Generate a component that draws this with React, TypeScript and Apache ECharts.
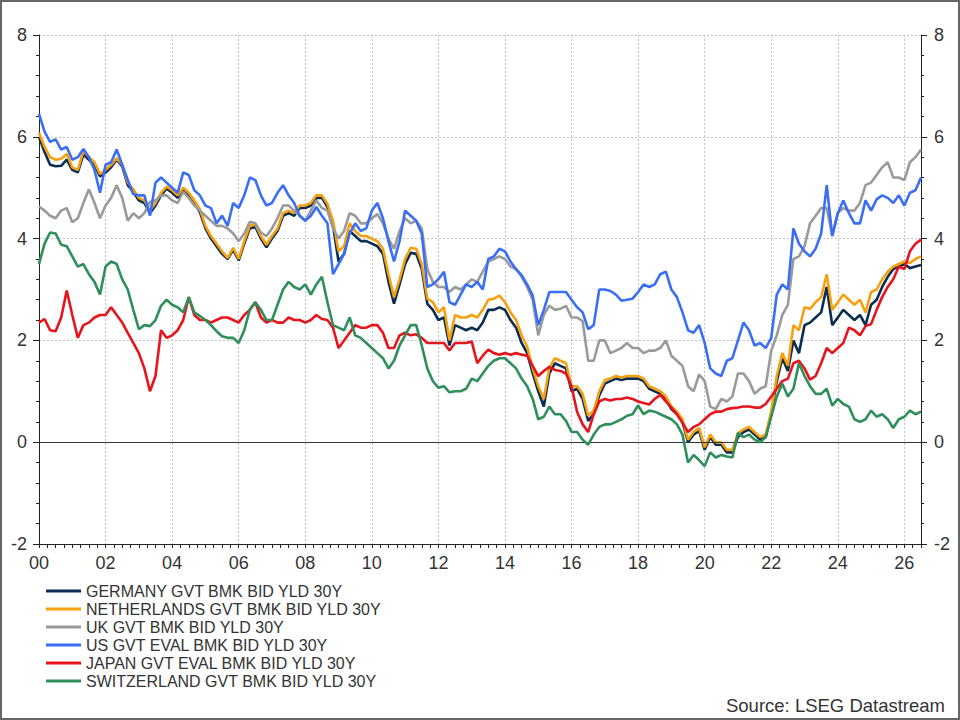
import React, { useEffect, useRef } from "react";
import * as echarts from "echarts";

// Two-monthly observations, starting Jan 2000 (t = years since 2000, step 1/6)
const STEP_PER_YEAR = 6;

const GERMANY = [
  6.0, 5.7, 5.45, 5.42, 5.43, 5.55,
  5.35, 5.3, 5.65, 5.55, 5.45, 5.22,
  5.3, 5.4, 5.55, 5.42, 5.05, 4.92,
  4.75, 4.7, 4.5, 4.65, 4.85, 4.98,
  4.9, 4.8, 4.95, 4.85, 4.7, 4.52,
  4.2, 4.0, 3.85, 3.7, 3.6, 3.78,
  3.57, 3.9, 4.2, 4.23, 4.0, 3.83,
  4.0, 4.15, 4.45, 4.5, 4.45, 4.6,
  4.6, 4.65, 4.8, 4.8, 4.62, 4.25,
  3.55, 3.7, 4.15, 4.05, 3.95, 3.95,
  3.9, 3.85, 3.7, 3.15, 2.72, 3.1,
  3.5, 3.72, 3.7, 3.4, 2.72, 2.6,
  2.4, 2.45, 1.9, 2.3, 2.25, 2.2,
  2.25, 2.2, 2.35, 2.6, 2.6, 2.65,
  2.6, 2.4, 2.25, 1.95, 1.75, 1.35,
  1.0, 0.7, 1.35, 1.55, 1.5, 1.45,
  1.0, 1.05, 0.85, 0.42, 0.55, 0.92,
  1.15, 1.2, 1.25, 1.22, 1.25, 1.25,
  1.25, 1.2, 1.05, 1.0, 0.95, 0.85,
  0.65, 0.55, 0.4, 0.0, 0.15, 0.22,
  -0.15, 0.1, -0.05, -0.05, -0.2, -0.2,
  0.1, 0.2, 0.25, 0.15, 0.05, 0.1,
  0.55, 1.2, 1.65, 1.4, 2.0, 1.75,
  2.3, 2.35, 2.45, 2.55, 3.05, 2.3,
  2.45, 2.6, 2.5, 2.4, 2.5, 2.3,
  2.7, 2.8, 3.05, 3.25, 3.4, 3.45,
  3.5, 3.42, 3.45, 3.48,
];

const NETHERLANDS = [
  6.08, 5.8, 5.6, 5.55, 5.57, 5.66,
  5.4, 5.35, 5.72, 5.6, 5.5, 5.27,
  5.35, 5.45, 5.58, 5.45, 5.1, 4.97,
  4.8, 4.75, 4.55, 4.7, 4.9, 5.02,
  4.95, 4.85, 5.0, 4.9, 4.75, 4.58,
  4.25, 4.05, 3.9, 3.75, 3.62, 3.82,
  3.6, 3.95, 4.25, 4.28, 4.05, 3.88,
  4.05, 4.2, 4.5, 4.55, 4.5, 4.65,
  4.65, 4.7, 4.85, 4.85, 4.68, 4.35,
  3.75, 3.85, 4.3, 4.15, 4.05, 4.05,
  4.0, 3.95, 3.8, 3.3, 2.85, 3.2,
  3.6, 3.82, 3.8, 3.5, 2.82, 2.75,
  2.55, 2.65, 2.0, 2.5, 2.45, 2.45,
  2.5, 2.45, 2.6, 2.8, 2.82, 2.88,
  2.75, 2.55, 2.4, 2.1, 1.88, 1.45,
  1.1, 0.85, 1.46, 1.65, 1.6, 1.55,
  1.1, 1.1, 0.95, 0.52, 0.62, 1.0,
  1.22, 1.25, 1.3, 1.27, 1.3, 1.3,
  1.3, 1.25, 1.1, 1.05, 1.0, 0.9,
  0.7, 0.6, 0.45, 0.05, 0.2, 0.28,
  -0.1, 0.15, 0.0, 0.0, -0.15, -0.15,
  0.18, 0.25, 0.3, 0.2, 0.1, 0.15,
  0.6, 1.3, 1.75, 1.5, 2.3, 2.2,
  2.65, 2.62, 2.75, 2.85, 3.3, 2.6,
  2.75, 2.9, 2.8, 2.7, 2.8, 2.55,
  2.95, 3.0, 3.2, 3.35, 3.45, 3.5,
  3.55, 3.52, 3.6, 3.65,
];

const UK = [
  4.63, 4.55, 4.45, 4.4, 4.55, 4.6,
  4.32, 4.4, 4.7, 4.97, 4.7, 4.4,
  4.65, 4.8, 5.05, 4.8, 4.35, 4.5,
  4.4, 4.5, 4.72, 4.75, 4.85, 4.85,
  4.75, 4.7, 4.92, 4.8, 4.65, 4.55,
  4.45, 4.35, 4.25, 4.25, 4.2, 4.1,
  3.95, 4.1, 4.33, 4.3, 4.12, 4.05,
  4.2, 4.4, 4.65, 4.65, 4.55, 4.45,
  4.35, 4.55, 4.75, 4.6, 4.55, 4.2,
  4.0, 4.15, 4.5, 4.45, 4.3, 4.3,
  4.4, 4.48, 4.3, 4.0, 3.8, 4.15,
  4.4, 4.3, 4.35, 4.2, 3.4, 3.15,
  3.05, 3.05, 2.95, 3.05, 3.0, 3.1,
  3.2, 3.15, 3.35, 3.55, 3.6, 3.65,
  3.6, 3.45, 3.4, 3.25, 3.05, 2.8,
  2.1, 2.5, 2.68, 2.6, 2.62, 2.68,
  2.45, 2.45, 2.38, 1.6, 1.6, 2.0,
  2.0, 1.75, 1.8, 1.85, 1.95, 1.85,
  1.85, 1.75, 1.8, 1.8, 1.85, 2.0,
  1.7, 1.6, 1.5, 1.1, 1.0, 1.33,
  1.2, 0.7, 0.65, 0.85, 0.8, 0.9,
  1.35, 1.35, 1.2, 0.95, 1.05, 1.1,
  1.8, 2.1, 2.5, 2.7, 3.6, 3.65,
  3.85, 4.3, 4.45, 4.6, 4.6, 4.05,
  4.5, 4.6, 4.55, 4.55, 4.7, 5.05,
  5.1, 5.25, 5.4, 5.5, 5.2, 5.2,
  5.15, 5.5, 5.6, 5.75,
];

const US = [
  6.45, 6.1, 5.9, 5.95, 5.75, 5.8,
  5.55, 5.6, 5.76, 5.6, 5.35, 4.9,
  5.45, 5.5, 5.75, 5.45, 5.15, 4.87,
  4.85, 4.85, 4.45, 5.1, 5.2, 5.1,
  5.0, 4.9, 5.3, 5.25, 4.95, 4.85,
  4.65, 4.6, 4.3, 4.45, 4.25, 4.7,
  4.6, 4.85, 5.2, 5.15, 4.85, 4.65,
  4.7, 4.9, 5.05, 4.85, 4.7, 4.45,
  4.35, 4.45, 4.62, 4.45, 4.3, 3.3,
  3.5, 3.7, 4.1, 4.3, 4.15, 4.2,
  4.55, 4.7, 4.4, 3.95, 3.55, 3.95,
  4.55, 4.45, 4.35, 4.1, 3.05, 3.1,
  3.2, 3.35, 2.75, 2.7, 2.9, 3.1,
  3.05, 3.15, 3.0, 3.6, 3.65, 3.8,
  3.75, 3.55, 3.4, 3.28, 3.1, 2.88,
  2.3, 2.6, 2.95, 2.95, 2.95, 2.95,
  2.8, 2.65, 2.55, 2.22, 2.3, 3.0,
  3.0, 2.97, 2.9, 2.78, 2.8, 2.82,
  2.95, 3.1, 3.05, 3.1, 3.3, 3.35,
  3.0, 2.85, 2.55, 2.2, 2.15, 2.3,
  1.95, 1.45, 1.35, 1.3, 1.6, 1.65,
  2.0, 2.35, 2.2, 1.9, 1.95, 1.85,
  2.05, 2.9, 3.1, 3.0, 4.2, 3.9,
  3.75, 3.65, 3.8, 4.1, 5.05, 4.05,
  4.5, 4.75, 4.5, 4.3, 4.3, 4.75,
  4.55, 4.77, 4.85, 4.8, 4.7, 4.85,
  4.65, 4.9, 4.95, 5.2,
];

const JAPAN = [
  2.35, 2.42, 2.2, 2.18, 2.45, 2.98,
  2.5, 2.05, 2.3, 2.35, 2.45, 2.5,
  2.5, 2.65, 2.5, 2.35, 2.15, 1.95,
  1.75, 1.45, 1.0, 1.3, 2.2, 2.05,
  2.1, 2.2, 2.4, 2.85, 2.5, 2.4,
  2.4, 2.35, 2.4, 2.45, 2.45, 2.4,
  2.35, 2.5, 2.6, 2.75, 2.45, 2.35,
  2.4, 2.35, 2.35, 2.45, 2.4, 2.4,
  2.35, 2.4, 2.5, 2.42, 2.4, 2.25,
  1.85, 2.0, 2.15, 2.3, 2.25, 2.25,
  2.3, 2.3, 2.15, 1.85, 1.85, 2.1,
  2.15, 2.1, 2.12, 2.05, 1.95, 1.95,
  1.95, 1.95, 1.8, 1.95, 1.95, 1.95,
  1.98, 1.55, 1.7, 1.82, 1.75, 1.72,
  1.75, 1.72, 1.75, 1.72, 1.7, 1.5,
  1.3, 1.4, 1.48, 1.42, 1.4, 1.35,
  1.1, 0.6, 0.35, 0.2, 0.55, 0.8,
  0.85, 0.82, 0.85, 0.85, 0.88, 0.85,
  0.8, 0.77, 0.74, 0.85, 0.93, 0.8,
  0.68, 0.55, 0.38, 0.2, 0.3, 0.35,
  0.45, 0.55, 0.6, 0.6, 0.65, 0.67,
  0.68, 0.7, 0.7, 0.68, 0.68, 0.75,
  0.9, 1.05, 1.2, 1.25, 1.55, 1.6,
  1.45, 1.23, 1.3, 1.55, 1.85, 1.75,
  1.85, 1.95, 2.25, 2.2, 2.1, 2.28,
  2.32, 2.6, 2.85, 3.05, 3.2, 3.45,
  3.4, 3.75, 3.9, 3.98,
];

const SWITZERLAND = [
  3.5, 3.9, 4.12, 4.1, 3.88, 3.85,
  3.65, 3.45, 3.5, 3.3, 3.15, 2.9,
  3.45, 3.55, 3.5, 3.2, 3.0, 2.6,
  2.22, 2.3, 2.28, 2.4, 2.68, 2.8,
  2.7, 2.65, 2.55, 2.85, 2.55, 2.48,
  2.4, 2.3, 2.18, 2.08, 2.05, 2.05,
  1.95, 2.2, 2.6, 2.75, 2.6, 2.4,
  2.4, 2.7, 3.0, 3.15, 3.05, 3.0,
  3.1, 2.9, 3.1, 3.25, 2.75, 2.3,
  2.25, 2.2, 2.45, 2.1, 2.05, 1.95,
  1.85, 1.75, 1.65, 1.45, 1.6, 1.9,
  2.1, 2.3, 2.3, 1.9, 1.45, 1.2,
  1.07, 1.1, 0.98, 1.0, 1.0, 1.05,
  1.25, 1.2, 1.35, 1.5, 1.6, 1.65,
  1.65, 1.55, 1.45, 1.25, 1.1, 0.85,
  0.45, 0.5, 0.7, 0.55, 0.55, 0.42,
  0.2, 0.2, 0.05, -0.05, 0.15, 0.3,
  0.35, 0.35, 0.4, 0.45, 0.52, 0.55,
  0.72, 0.55, 0.62, 0.6, 0.55, 0.5,
  0.45, 0.35, 0.15, -0.4, -0.25, -0.35,
  -0.47, -0.2, -0.3, -0.25, -0.28, -0.3,
  0.18, 0.1, 0.15, 0.05, 0.0, 0.1,
  0.5, 0.9, 1.15, 0.9, 1.05, 1.55,
  1.3, 1.1, 0.95, 0.95, 1.05, 0.72,
  0.85, 0.75, 0.7, 0.45, 0.4, 0.45,
  0.62, 0.5, 0.55, 0.45, 0.28, 0.45,
  0.5, 0.62, 0.55, 0.6,
];

const SERIES_NAMES = [
  "GERMANY GVT BMK BID YLD 30Y",
  "NETHERLANDS GVT BMK BID YLD 30Y",
  "UK GVT BMK BID YLD 30Y",
  "US GVT EVAL BMK BID YLD 30Y",
  "JAPAN GVT EVAL BMK BID YLD 30Y",
  "SWITZERLAND GVT BMK BID YLD 30Y",
];
const SERIES_VALUES = [GERMANY, NETHERLANDS, UK, US, JAPAN, SWITZERLAND];
const SERIES_COLORS = ["#0c2d52", "#f5a00f", "#9a9a9a", "#3a6ef5", "#e8141c", "#2f8f5b"];

const X_MIN = 0;
const X_MAX = 26.5;
const Y_MIN = -2;
const Y_MAX = 8;
const SOURCE_TEXT = "Source: LSEG Datastream";

const FONT = "'Liberation Sans', Arial, Helvetica, sans-serif";

export default function App() {
  const ref = useRef<HTMLDivElement>(null);

  useEffect(() => {
    document.body.style.margin = "0";
    if (!ref.current) return;
    const chart = echarts.init(ref.current, null, { renderer: "svg" });

    const series = SERIES_VALUES.map((vals, si) => ({
      name: SERIES_NAMES[si],
      type: "line",
      xAxisIndex: 0,
      yAxisIndex: 0,
      data: vals.map((v, i) => [i / STEP_PER_YEAR, v]),
      showSymbol: false,
      symbol: "none",
      lineStyle: { color: SERIES_COLORS[si], width: 2.6 },
      itemStyle: { color: SERIES_COLORS[si] },
      z: 2 + si,
      ...(si === 0
        ? {
            markLine: {
              silent: true,
              symbol: ["none", "none"],
              label: { show: false },
              lineStyle: { color: "#333", width: 1, type: "solid" },
              data: [{ yAxis: 0 }],
            },
          }
        : {}),
    }));

    const axisLineStyle = { color: "#222", width: 1 };
    const labelStyle = { color: "#333", fontSize: 18, fontFamily: FONT };

    const yCommon = {
      type: "value",
      min: Y_MIN,
      max: Y_MAX,
      interval: 2,
      axisLine: { show: true, onZero: false, lineStyle: axisLineStyle },
      axisTick: { show: true, length: 6, lineStyle: axisLineStyle },
      minorTick: { show: true, splitNumber: 5, length: 3, lineStyle: axisLineStyle },
      minorSplitLine: { show: false },
      axisLabel: { ...labelStyle, margin: 12 },
    };

    chart.setOption({
      animation: false,
      backgroundColor: "#ffffff",
      textStyle: { fontFamily: FONT },
      grid: {
        left: 39,
        right: 39,
        top: 35,
        bottom: 176,
        containLabel: false,
        outerBoundsMode: "none",
      },
      xAxis: [
        {
          type: "value",
          position: "bottom",
          min: X_MIN,
          max: X_MAX,
          interval: 2,
          axisLine: { show: true, onZero: false, lineStyle: axisLineStyle },
          axisTick: { show: false },
          axisLabel: {
            ...labelStyle,
            margin: 10,
            showMaxLabel: false,
            formatter: (v: number) =>
              Number.isInteger(v) ? String(v).padStart(2, "0") : "",
          },
          splitLine: {
            show: true,
            lineStyle: { color: "#c4c4c4", width: 1, type: [2, 2] },
          },
        },
        {
          type: "value",
          position: "bottom",
          min: X_MIN,
          max: X_MAX,
          interval: 0.25,
          axisLine: { show: false, onZero: false },
          axisTick: { show: true, length: 4, lineStyle: axisLineStyle },
          axisLabel: { show: false },
          splitLine: { show: false },
        },
      ],
      yAxis: [
        {
          ...yCommon,
          position: "left",
          splitLine: {
            show: true,
            lineStyle: { color: "#c4c4c4", width: 1, type: [2, 2] },
          },
        },
        {
          ...yCommon,
          position: "right",
          splitLine: { show: false },
          axisLabel: { ...labelStyle, margin: 13 },
        },
      ],
      legend: {
        show: true,
        orient: "vertical",
        left: 46,
        top: 582,
        padding: 0,
        itemGap: 0,
        itemWidth: 35,
        itemHeight: 3,
        icon: "rect",
        data: SERIES_NAMES,
        textStyle: { color: "#333", fontSize: 16, fontFamily: FONT, lineHeight: 18 },
        selectedMode: false,
      },
      graphic: [
        {
          type: "rect",
          shape: { x: 1, y: 1, width: 958, height: 718 },
          style: { fill: "none", stroke: "#666", lineWidth: 2 },
          silent: true,
          z: 100,
        },
        {
          type: "text",
          right: 15,
          top: 696,
          style: {
            text: SOURCE_TEXT,
            fill: "#333",
            fontSize: 18.5,
            fontFamily: FONT,
          },
          silent: true,
        },
      ],
      series,
    });

    return () => {
      chart.dispose();
    };
  }, []);

  return (
    <div
      ref={ref}
      style={{ position: "absolute", left: 0, top: 0, width: 960, height: 720 }}
    />
  );
}
